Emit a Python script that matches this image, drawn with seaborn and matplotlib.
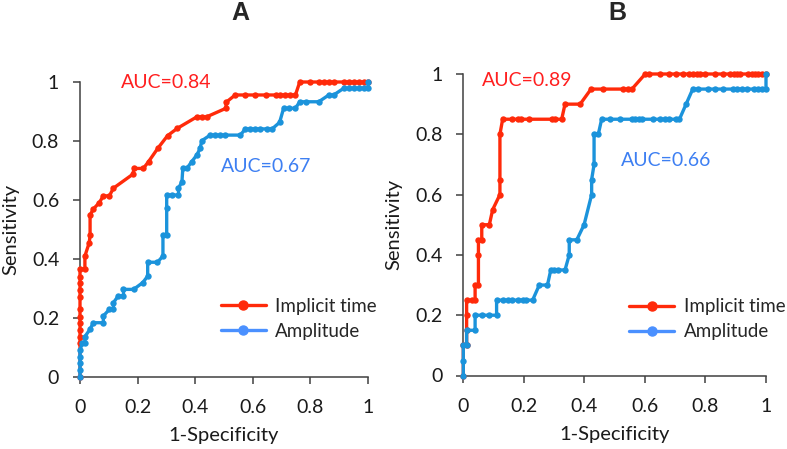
import numpy as np
import pandas as pd
import matplotlib
matplotlib.use("Agg")
import matplotlib.pyplot as plt
import seaborn as sns
from matplotlib.lines import Line2D

# Panel A: ROC points (1-specificity, sensitivity)
a_time_fpr = [0, 0, 0, 0, 0, 0, 0, 0, 0, 0, 0, 0, 0.017, 0.017, 0.032, 0.035, 0.035,
              0.046, 0.067, 0.081, 0.102, 0.116, 0.183, 0.188, 0.22, 0.238, 0.27, 0.304,
              0.338, 0.406, 0.423, 0.44, 0.507, 0.507, 0.539, 0.574, 0.609, 0.647, 0.682,
              0.696, 0.713, 0.73, 0.748, 0.763, 0.8, 0.829, 0.846, 0.864, 0.881, 0.916,
              0.933, 0.951, 0.968, 0.986, 1.0]
a_time_tpr = [0, 0.114, 0.137, 0.159, 0.182, 0.204, 0.229, 0.272, 0.295, 0.318, 0.34,
              0.366, 0.366, 0.41, 0.455, 0.48, 0.549, 0.569, 0.591, 0.614, 0.614, 0.64,
              0.687, 0.707, 0.707, 0.73, 0.775, 0.818, 0.843, 0.882, 0.882, 0.882, 0.911,
              0.931, 0.956, 0.956, 0.956, 0.956, 0.956, 0.956, 0.956, 0.956, 0.956, 1.0,
              1.0, 1.0, 1.0, 1.0, 1.0, 1.0, 1.0, 1.0, 1.0, 1.0, 1.0]

a_amp_fpr = [0, 0, 0, 0, 0, 0.008, 0.017, 0.017, 0.035, 0.046, 0.081, 0.081, 0.102,
             0.116, 0.116, 0.133, 0.151, 0.151, 0.186, 0.218, 0.235, 0.235, 0.269, 0.288,
             0.288, 0.301, 0.301, 0.301, 0.319, 0.342, 0.342, 0.354, 0.357, 0.371, 0.388,
             0.406, 0.417, 0.423, 0.452, 0.47, 0.487, 0.505, 0.557, 0.574, 0.591, 0.609,
             0.626, 0.649, 0.667, 0.693, 0.707, 0.725, 0.748, 0.763, 0.783, 0.829, 0.864,
             0.881, 0.916, 0.933, 0.951, 0.968, 0.986, 1.0, 1.0]
a_amp_tpr = [0, 0.024, 0.046, 0.068, 0.092, 0.114, 0.114, 0.137, 0.162, 0.184, 0.184,
             0.207, 0.229, 0.229, 0.252, 0.275, 0.275, 0.297, 0.297, 0.32, 0.342, 0.389,
             0.389, 0.41, 0.481, 0.481, 0.572, 0.617, 0.617, 0.617, 0.64, 0.662, 0.707,
             0.707, 0.73, 0.753, 0.775, 0.801, 0.82, 0.82, 0.82, 0.82, 0.82, 0.841, 0.841,
             0.841, 0.841, 0.841, 0.841, 0.863, 0.911, 0.911, 0.911, 0.933, 0.933, 0.933,
             0.956, 0.956, 0.979, 0.979, 0.979, 0.979, 0.979, 0.979, 1.0]

# Panel B
b_time_fpr = [0, 0, 0.011, 0.011, 0.011, 0.011, 0.028, 0.039, 0.039, 0.05, 0.05, 0.05,
              0.061, 0.061, 0.086, 0.097, 0.121, 0.121, 0.121, 0.13, 0.16, 0.18, 0.191,
              0.218, 0.292, 0.303, 0.325, 0.336, 0.386, 0.422, 0.46, 0.529, 0.543, 0.557,
              0.601, 0.615, 0.65, 0.678, 0.703, 0.725, 0.747, 0.76, 0.772, 0.782, 0.799,
              0.832, 0.857, 0.881, 0.893, 0.904, 0.915, 0.942, 0.953, 0.964, 0.975, 0.986,
              1.0]
b_time_tpr = [0, 0.1, 0.1, 0.15, 0.2, 0.25, 0.25, 0.25, 0.3, 0.3, 0.4, 0.45, 0.45, 0.5,
              0.5, 0.55, 0.6, 0.65, 0.8, 0.85, 0.85, 0.85, 0.85, 0.85, 0.85, 0.85, 0.85,
              0.9, 0.9, 0.95, 0.95, 0.95, 0.95, 0.95, 1.0, 1.0, 1.0, 1.0, 1.0, 1.0, 1.0,
              1.0, 1.0, 1.0, 1.0, 1.0, 1.0, 1.0, 1.0, 1.0, 1.0, 1.0, 1.0, 1.0, 1.0, 1.0,
              1.0]

b_amp_fpr = [0, 0, 0, 0.011, 0.011, 0.039, 0.039, 0.061, 0.086, 0.11, 0.11, 0.132, 0.149,
             0.16, 0.182, 0.196, 0.207, 0.229, 0.251, 0.278, 0.289, 0.3, 0.314, 0.336,
             0.35, 0.35, 0.375, 0.399, 0.424, 0.424, 0.432, 0.432, 0.446, 0.457, 0.483,
             0.518, 0.557, 0.568, 0.579, 0.59, 0.628, 0.65, 0.667, 0.678, 0.703, 0.714,
             0.736, 0.758, 0.777, 0.81, 0.832, 0.857, 0.891, 0.904, 0.92, 0.937, 0.959,
             0.975, 0.987, 1.0, 1.0]
b_amp_tpr = [0, 0.048, 0.1, 0.1, 0.15, 0.15, 0.2, 0.2, 0.2, 0.2, 0.25, 0.25, 0.25, 0.25,
             0.25, 0.25, 0.25, 0.25, 0.3, 0.3, 0.35, 0.35, 0.35, 0.35, 0.4, 0.45, 0.45,
             0.5, 0.6, 0.65, 0.7, 0.8, 0.8, 0.85, 0.85, 0.85, 0.85, 0.85, 0.85, 0.85, 0.85,
             0.85, 0.85, 0.85, 0.85, 0.85, 0.9, 0.95, 0.95, 0.95, 0.95, 0.95, 0.95, 0.95,
             0.95, 0.95, 0.95, 0.95, 0.95, 0.95, 1.0]

panel_titles = ["A", "B"]
auc_time = ["AUC=0.84", "AUC=0.89"]
auc_amp = ["AUC=0.67", "AUC=0.66"]
series_names = ["Implicit time", "Amplitude"]
tick_vals = [0, 0.2, 0.4, 0.6, 0.8, 1]
tick_labels = ["0", "0.2", "0.4", "0.6", "0.8", "1"]

RED = "#ff2a0a"
BLUE = "#1b93db"
RED_TXT = "#ff1f1f"
BLUE_TXT = "#3d7ff2"
BLUE_LEG = "#4a90ff"
SPINE = "#404040"
TXT = "#1a1a1a"

sns.set_style("ticks")
plt.rcParams["font.family"] = ["Lato", "DejaVu Sans"]

fig = plt.figure(figsize=(7.87, 4.49), dpi=100)
W, H = 787, 449


def px_axes(left, top, right, bottom):
    return fig.add_axes([left / W, 1 - bottom / H, (right - left) / W, (bottom - top) / H])


ax_a = px_axes(80, 82, 368, 377)
ax_b = px_axes(463.3, 74, 766, 375.5)

panels = [
    (ax_a, a_time_fpr, a_time_tpr, a_amp_fpr, a_amp_tpr, (0.30, 1.0), (0.647, 0.713),
     (0.489, 0.197)),
    (ax_b, b_time_fpr, b_time_tpr, b_amp_fpr, b_amp_tpr, (0.21, 0.98), (0.67, 0.714),
     (0.548, 0.186)),
]

for i, (ax, tx, ty, ax_x, ax_y, pos_t, pos_a, leg_pos) in enumerate(panels):
    style = dict(sort=False, estimator=None, marker="o", markersize=4.6,
                 markeredgewidth=0, linewidth=2.4, clip_on=False, legend=False)
    sns.lineplot(x=tx, y=ty, ax=ax, color=RED, zorder=3, **style)
    sns.lineplot(x=ax_x, y=ax_y, ax=ax, color=BLUE, zorder=4, **style)

    ax.set_xlim(0, 1)
    ax.set_ylim(0, 1)
    ax.set_xticks(tick_vals)
    ax.set_xticklabels(tick_labels)
    ax.set_yticks(tick_vals)
    ax.set_yticklabels(tick_labels)
    ax.tick_params(labelsize=14, length=5, width=1.1, color=SPINE, labelcolor=TXT)
    ax.tick_params(axis="x", pad=11)
    ax.tick_params(axis="y", pad=10)
    for side in ["top", "right"]:
        ax.spines[side].set_visible(False)
    for side in ["left", "bottom"]:
        ax.spines[side].set_color(SPINE)
        ax.spines[side].set_linewidth(1.1)
    ax.set_xlabel("1-Specificity", fontsize=14.5, labelpad=8, color=TXT)
    ax.set_ylabel("Sensitivity", fontsize=14.5, labelpad=9, color=TXT)

    ax.text(pos_t[0], pos_t[1], auc_time[i], color=RED_TXT, fontsize=14,
            ha="center", va="center")
    ax.text(pos_a[0], pos_a[1], auc_amp[i], color=BLUE_TXT, fontsize=14,
            ha="center", va="center")

    handles = [
        Line2D([], [], color=RED, marker="o", markersize=6.5, linewidth=2.4),
        Line2D([], [], color=BLUE_LEG, marker="o", markersize=6.5, linewidth=2.4),
    ]
    ax.legend(handles, series_names, loc="center left", frameon=False,
              bbox_to_anchor=leg_pos, fontsize=13.5, handlelength=2.4,
              handletextpad=0.5, labelspacing=0.42, borderpad=0, borderaxespad=0)

fig.text(240 / W, 1 - 12.5 / H, panel_titles[0], fontsize=18, fontweight="bold",
         family="Liberation Sans", ha="center", va="center")
fig.text(617.5 / W, 1 - 12.5 / H, panel_titles[1], fontsize=18, fontweight="bold",
         family="Liberation Sans", ha="center", va="center")

fig.savefig("out.png", dpi=100)
